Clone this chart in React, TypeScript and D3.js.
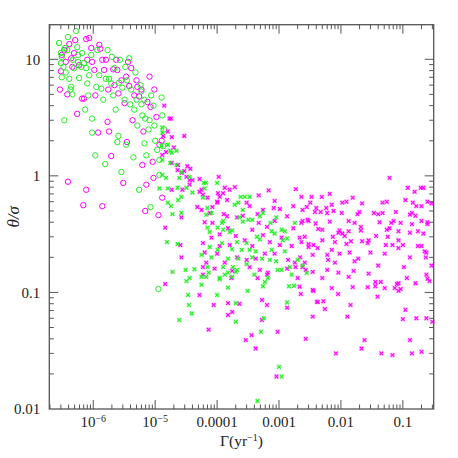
import React from "react";
import * as d3 from "d3";

const width = 458;
const height = 458;
const margin = { top: 24.7, right: 24.3, bottom: 49, left: 49.3 };
const innerWidth = width - margin.left - margin.right;
const innerHeight = height - margin.top - margin.bottom;

// [Gamma (yr^-1), theta/sigma]
const magentaCircles: [number, number][] = [
  [2.9e-7, 5.5], [3.0e-7, 7.9], [3.1e-7, 10.9], [3.4e-7, 12.0], [3.6e-7, 9.5], [3.8e-7, 5.0],
  [3.9e-7, 0.89], [4.1e-7, 13.5], [4.4e-7, 10.2], [4.6e-7, 8.6], [4.9e-7, 11.3], [5.1e-7, 14.6],
  [5.5e-7, 3.4], [5.9e-7, 8.9], [6.6e-7, 4.6], [6.9e-7, 0.56], [7.1e-7, 4.6], [7.7e-7, 14.9],
  [7.7e-7, 0.76], [8.0e-7, 9.9], [8.6e-7, 15.2], [9.3e-7, 12.5], [9.6e-7, 9.5], [1.04e-6, 8.1],
  [1.08e-6, 4.9], [1.2e-6, 2.35], [1.25e-6, 13.3], [1.3e-6, 12.3], [1.4e-6, 0.55], [1.4e-6, 9.9],
  [1.5e-6, 8.1], [1.6e-6, 9.9], [1.7e-6, 2.9], [1.75e-6, 5.5], [1.8e-6, 2.4], [1.95e-6, 1.48],
  [2.1e-6, 8.2], [2.2e-6, 6.0], [2.35e-6, 9.9], [2.45e-6, 8.1], [2.55e-6, 5.1], [2.85e-6, 6.6],
  [3.05e-6, 0.87], [3.2e-6, 4.2], [3.4e-6, 7.1], [3.5e-6, 1.95], [3.65e-6, 9.5], [3.8e-6, 5.9],
  [4.1e-6, 8.4], [4.3e-6, 3.0], [4.6e-6, 4.9], [5.0e-6, 6.6], [5.15e-6, 5.8], [5.5e-6, 4.8],
  [6.0e-6, 5.5], [6.2e-6, 1.24], [6.45e-6, 2.4], [6.9e-6, 0.5], [7.2e-6, 0.84], [7.5e-6, 4.3],
  [8.1e-6, 7.1], [8.4e-6, 3.9], [9.1e-6, 1.32], [9.4e-6, 0.96], [9.7e-6, 5.5], [1.05e-5, 3.2],
  [1.13e-5, 0.46], [1.17e-5, 1.85], [1.27e-5, 2.0], [1.3e-5, 0.65],
];

const greenCircles: [number, number][] = [
  [2.8e-7, 13.8], [3.0e-7, 11.3], [3.1e-7, 10.5], [3.0e-7, 9.3], [3.3e-7, 8.6], [3.1e-7, 7.0],
  [3.4e-7, 3.0], [3.9e-7, 15.5], [3.8e-7, 12.0], [3.6e-7, 7.7], [4.1e-7, 6.8], [4.4e-7, 5.8],
  [4.3e-7, 5.5], [4.6e-7, 5.0], [5.3e-7, 17.5], [5.5e-7, 12.7], [5.7e-7, 9.5], [5.7e-7, 10.9],
  [4.9e-7, 8.4], [5.9e-7, 6.9], [6.4e-7, 8.6], [6.6e-7, 11.3], [7.1e-7, 9.3], [7.7e-7, 8.4],
  [8.0e-7, 6.2], [8.6e-7, 7.3], [9.3e-7, 10.9], [9.6e-7, 3.1], [9.6e-7, 2.35], [1.08e-6, 1.5],
  [1.12e-6, 5.8], [1.16e-6, 12.0], [1.25e-6, 7.3], [1.35e-6, 5.6], [1.45e-6, 4.5], [1.56e-6, 1.26],
  [1.6e-6, 6.8], [1.7e-6, 12.0], [1.8e-6, 6.8], [1.95e-6, 6.2], [2.0e-6, 10.5], [2.1e-6, 4.9],
  [2.3e-6, 3.7], [2.45e-6, 1.95], [2.55e-6, 2.2], [2.85e-6, 1.08], [2.95e-6, 5.7], [3.2e-6, 4.5],
  [3.3e-6, 8.6], [3.4e-6, 1.85], [3.5e-6, 6.6], [3.8e-6, 10.2], [3.95e-6, 4.1], [4.1e-6, 5.5],
  [4.45e-6, 1.44], [4.6e-6, 3.7], [4.8e-6, 7.7], [5.0e-6, 4.5], [5.15e-6, 2.7], [5.5e-6, 0.76],
  [6.0e-6, 5.3], [6.2e-6, 3.3], [6.7e-6, 4.5], [6.7e-6, 1.9], [7.2e-6, 1.5], [7.8e-6, 2.5],
  [8.1e-6, 3.0], [8.4e-6, 0.54], [8.6e-6, 4.9], [9.4e-6, 4.0], [9.7e-6, 2.7], [1.0e-5, 2.0],
  [1.08e-5, 1.67], [1.17e-5, 1.02], [1.13e-5, 0.107], [1.27e-5, 4.7], [1.3e-5, 3.3], [1.35e-5, 1.8],
  [1.17e-5, 1.37], [1.4e-5, 2.5], [7.4e-7, 3.7], [8.3e-7, 4.9], [4.7e-7, 9.9], [3.5e-7, 12.5],
  [2.2e-6, 8.4], [2.6e-6, 6.3], [2.7e-6, 9.9], [5.8e-6, 6.0], [6.0e-6, 4.1], [6.9e-6, 3.1],
];

const magentaCrosses: [number, number][] = [
  [1.4e-5, 4.0], [1.7e-5, 3.1], [1.8e-5, 3.1], [1.35e-5, 2.2], [1.85e-5, 2.15], [2.95e-5, 2.2],
  [2.0e-5, 1.75], [1.45e-5, 0.36], [1.45e-5, 0.118], [1.85e-5, 1.29], [2.35e-5, 1.24], [2.7e-5, 1.06],
  [3.3e-5, 1.21], [3.2e-5, 0.98], [3.6e-5, 0.92], [2.65e-5, 0.44], [2.65e-5, 0.2], [2.55e-5, 0.255],
  [5.2e-5, 0.73], [5.6e-5, 0.76], [5.9e-5, 0.69], [4.8e-5, 0.54], [5.2e-5, 0.095], [7.3e-5, 0.048],
  [8.8e-5, 0.078], [1.06e-4, 0.98], [1.0e-4, 0.6], [1.1e-4, 0.66], [1.33e-4, 0.79], [1.93e-4, 0.8],
  [1.45e-4, 0.45], [1.5e-4, 0.081], [1.75e-4, 0.068], [2.3e-4, 0.08], [2.9e-4, 0.039], [3.6e-4, 0.043],
  [4.2e-4, 0.033], [5.3e-4, 0.058], [6.4e-4, 0.078], [6.8e-4, 0.75], [8.2e-4, 0.53], [9.5e-4, 0.046],
  [9.1e-4, 0.019], [1.35e-3, 0.074], [1.87e-3, 0.77], [2.15e-3, 0.112], [2.7e-3, 0.04], [3.5e-3, 0.105],
  [3.5e-3, 0.062], [4.1e-3, 0.083], [5.5e-3, 0.072], [4.9e-3, 0.66], [6.6e-3, 0.7], [8.3e-3, 0.03],
  [0.0127, 0.062], [0.0143, 0.078], [0.0215, 0.033], [0.024, 0.039], [0.039, 0.092], [0.045, 0.03],
  [0.068, 0.029], [0.11, 0.071], [0.1, 0.059], [0.13, 0.039], [0.14, 0.03], [0.165, 0.06],
  [0.3, 0.056], [0.061, 0.96], [0.12, 0.79], [0.155, 0.73], [0.195, 0.79], [0.215, 0.79],
  [0.25, 0.6], [0.29, 0.58],
  [2.3e-3, 0.66], [3.35e-3, 0.66], [0.0155, 0.65], [3.2e-3, 0.59], [7.1e-3, 0.565], [0.0105, 0.59],
  [0.0123, 0.6], [0.022, 0.58], [0.047, 0.59], [0.055, 0.6], [0.11, 0.62], [0.145, 0.59],
  [0.165, 0.55], [0.2, 0.55], [2.8e-3, 0.54], [4.0e-3, 0.53], [5.8e-3, 0.53], [4.7e-3, 0.49],
  [6.0e-3, 0.48], [7.6e-3, 0.5], [0.0103, 0.48], [0.0185, 0.47], [0.02, 0.49], [0.034, 0.48],
  [0.04, 0.47], [0.047, 0.48], [0.077, 0.49], [0.13, 0.465], [0.14, 0.48], [0.16, 0.455],
  [2.4e-3, 0.41], [3.0e-3, 0.41], [3.9e-3, 0.39], [6.6e-3, 0.405], [0.0133, 0.41], [0.0166, 0.395],
  [0.042, 0.4], [0.065, 0.395], [0.071, 0.41], [0.092, 0.395], [0.14, 0.385], [0.2, 0.41],
  [0.25, 0.4], [4.3e-3, 0.35], [5.0e-3, 0.345], [9.5e-3, 0.34], [0.0133, 0.335], [0.021, 0.365],
  [0.021, 0.34], [0.055, 0.345], [0.061, 0.355], [0.085, 0.335], [0.13, 0.325], [0.175, 0.335],
  [0.215, 0.32], [0.25, 0.385], [7.4e-3, 0.3], [9.1e-3, 0.325], [0.0105, 0.32], [0.0115, 0.305],
  [0.0145, 0.275], [0.022, 0.275], [0.028, 0.28], [0.037, 0.305], [0.057, 0.3], [0.085, 0.28],
  [2.6e-3, 0.3], [2.3e-3, 0.27], [3.0e-3, 0.26], [3.6e-3, 0.255], [4.2e-3, 0.24], [5.0e-3, 0.28],
  [7.1e-3, 0.232], [8.0e-3, 0.27], [0.0123, 0.26], [0.027, 0.265], [0.053, 0.255], [0.068, 0.255],
  [0.085, 0.24], [0.1, 0.255], [0.175, 0.25], [0.2, 0.25], [0.225, 0.225], [0.24, 0.22],
  [2.2e-3, 0.2], [3.5e-3, 0.21], [6.0e-3, 0.21], [9.5e-3, 0.215], [0.0138, 0.22], [0.03, 0.22],
  [0.051, 0.215], [0.13, 0.2], [0.235, 0.2], [2.6e-3, 0.18], [6.2e-3, 0.19], [8.0e-3, 0.18],
  [0.0166, 0.185], [0.019, 0.195], [0.04, 0.17], [0.104, 0.165], [0.29, 0.17], [2.7e-3, 0.156],
  [3.5e-3, 0.15], [6.0e-3, 0.156], [9.1e-3, 0.148], [0.016, 0.153], [0.028, 0.145], [0.24, 0.142],
  [5.0e-3, 0.133], [0.0133, 0.136], [0.036, 0.123], [0.044, 0.123], [0.116, 0.133], [0.25, 0.131],
  [7.1e-3, 0.109], [0.0155, 0.111], [0.027, 0.111], [0.051, 0.109], [0.074, 0.109], [0.085, 0.12],
  [2.25e-3, 0.097], [3.6e-3, 0.103], [9.0e-3, 0.097], [0.036, 0.113], [0.08, 0.118], [0.085, 0.103],
  [0.092, 0.107], [0.16, 0.12], [0.27, 0.125], [4.2e-3, 0.083], [5.2e-3, 0.084], [0.24, 0.06],
  [0.2, 0.031],
  [1.25e-4, 0.71], [4.7e-4, 0.68], [8.5e-4, 0.61], [1.45e-4, 0.62], [3.0e-4, 0.59], [3.35e-4, 0.55],
  [1.02e-4, 0.59], [7.0e-5, 0.65], [8.4e-5, 0.54], [1.7e-3, 0.55], [2.4e-3, 0.51], [1.03e-3, 0.52],
  [3.8e-3, 0.49], [4.5e-4, 0.47], [5.5e-4, 0.51], [5.6e-5, 0.51], [7.6e-5, 0.48], [1.28e-4, 0.47],
  [2.1e-4, 0.44], [2.6e-4, 0.455], [4.7e-4, 0.395], [6.4e-4, 0.365], [8.5e-4, 0.41], [1.35e-3, 0.45],
  [1.7e-3, 0.355], [2.3e-3, 0.395], [2.9e-3, 0.42], [6.3e-5, 0.4], [8.4e-5, 0.395], [1.5e-4, 0.355],
  [1.1e-4, 0.315], [3.7e-4, 0.345], [5.5e-4, 0.31], [8.1e-5, 0.295], [2.0e-4, 0.305], [2.8e-4, 0.28],
  [7.1e-4, 0.27], [1.1e-3, 0.295], [2.15e-3, 0.295], [3.0e-3, 0.245], [5.9e-5, 0.265], [1.1e-4, 0.25],
  [1.6e-4, 0.255], [3.7e-4, 0.25], [1.03e-3, 0.255], [1.6e-3, 0.25], [6.3e-5, 0.22], [1.0e-4, 0.215],
  [2.1e-4, 0.2], [5.9e-4, 0.215], [8.5e-4, 0.215], [6.7e-5, 0.18], [1.33e-4, 0.18], [3.0e-4, 0.19],
  [4.2e-4, 0.195], [1.4e-3, 0.19], [1.8e-3, 0.18], [2.4e-3, 0.165], [5.9e-5, 0.165], [9.1e-5, 0.16],
  [1.75e-4, 0.153], [3.35e-4, 0.165], [4.9e-4, 0.156], [6.6e-4, 0.148], [1.35e-3, 0.16], [5.9e-5, 0.142],
  [1.7e-4, 0.133], [4.5e-4, 0.133], [6.4e-4, 0.142], [2.0e-3, 0.133],
  [1.6e-5, 2.4], [1.5e-5, 1.6], [1.3e-5, 1.51], [3.7e-5, 1.15], [2.3e-5, 1.12], [2.95e-5, 1.1],
  [4.0e-5, 0.92], [5.2e-5, 0.94], [3.6e-5, 0.84], [1.6e-4, 0.76], [1.03e-4, 0.71], [2.75e-5, 0.76],
  [1.85e-5, 0.76], [1.5e-4, 0.064], [5.3e-4, 0.086], [1.85e-3, 0.165],
];

const greenCrosses: [number, number][] = [
  [1.3e-5, 2.6], [1.3e-5, 2.35], [1.27e-5, 1.8], [1.6e-5, 1.85], [1.75e-5, 1.64], [1.85e-5, 1.58],
  [2.2e-5, 1.64], [1.3e-5, 1.37], [1.75e-5, 1.29], [2.2e-5, 1.24], [1.3e-5, 1.02], [1.5e-5, 0.96],
  [2.45e-5, 0.96], [2.65e-5, 1.08], [3.6e-5, 0.98], [1.17e-5, 0.78], [1.6e-5, 0.78], [2.3e-5, 0.79],
  [3.2e-5, 0.79], [4.0e-5, 0.72], [5.9e-5, 0.65], [6.3e-5, 0.78], [1.0e-4, 0.87], [1.6e-5, 0.59],
  [1.8e-5, 0.55], [2.35e-5, 0.62], [2.65e-5, 0.66],
  [6.1e-5, 0.87], [6.6e-5, 0.87], [2.4e-4, 0.66], [2.8e-4, 0.66], [3.35e-4, 0.66], [2.2e-4, 0.59],
  [2.6e-4, 0.51], [1.93e-4, 0.565], [7.0e-5, 0.53], [6.7e-5, 0.465], [8.1e-5, 0.48], [1.25e-4, 0.41],
  [1.2e-4, 0.395], [2.3e-4, 0.44], [2.6e-4, 0.405], [3.2e-4, 0.42], [3.7e-4, 0.42], [4.9e-4, 0.45],
  [5.5e-4, 0.48], [7.3e-4, 0.395], [9.0e-4, 0.44], [1.1e-3, 0.345], [1.24e-3, 0.335], [1.8e-3, 0.395],
  [1.6e-4, 0.33], [1.75e-4, 0.34], [7.0e-5, 0.36], [1.02e-4, 0.36], [1.25e-4, 0.345], [7.6e-5, 0.33],
  [1.2e-4, 0.265], [2.1e-4, 0.27], [3.0e-4, 0.265], [4.4e-4, 0.3], [4.9e-4, 0.285], [7.6e-4, 0.335],
  [8.5e-4, 0.32], [1.15e-3, 0.28], [1.35e-3, 0.29], [7.6e-5, 0.245], [1.02e-4, 0.232], [1.75e-4, 0.235],
  [2.5e-4, 0.232], [3.35e-4, 0.232], [4.2e-4, 0.225], [7.6e-4, 0.232], [1.24e-3, 0.225], [5.6e-5, 0.21],
  [8.1e-5, 0.2], [1.5e-4, 0.195], [2.2e-4, 0.195], [3.7e-4, 0.2], [5.3e-4, 0.195], [7.1e-4, 0.19],
  [9.0e-4, 0.185], [2.0e-3, 0.19], [7.0e-5, 0.165], [1.25e-4, 0.165], [1.8e-4, 0.165], [3.0e-4, 0.175],
  [1.1e-3, 0.156], [1.5e-3, 0.165], [2.4e-3, 0.17], [1.33e-4, 0.142], [2.1e-4, 0.156], [4.0e-4, 0.142],
  [9.5e-4, 0.156], [1.6e-3, 0.142], [2.8e-3, 0.147], [6.7e-5, 0.136], [1.1e-4, 0.133], [1.75e-4, 0.136],
  [6.6e-4, 0.133],
  [1.9e-5, 0.47], [2.65e-5, 0.48], [1.55e-5, 0.27], [2.3e-5, 0.26], [1.9e-5, 0.15], [3.1e-5, 0.156],
  [4.3e-5, 0.158], [3.2e-5, 0.125], [3.6e-5, 0.133], [5.6e-5, 0.136], [5.6e-5, 0.116], [7.3e-5, 0.148],
  [1.1e-4, 0.13], [1.5e-4, 0.148], [3.4e-5, 0.095], [3.5e-5, 0.078], [3.9e-5, 0.066], [2.45e-5, 0.058],
  [1.0e-4, 0.095], [1.5e-4, 0.11], [2.0e-4, 0.15], [3.1e-4, 0.103], [2.0e-4, 0.081], [2.0e-4, 0.056],
  [5.1e-4, 0.046], [5.7e-4, 0.06], [5.5e-4, 0.113], [5.9e-4, 0.123], [1.35e-3, 0.082], [1.45e-3, 0.113],
  [1.75e-3, 0.114], [1.0e-3, 0.023], [1.1e-3, 0.019], [4.5e-4, 0.0117],
];

const xLabelValues = [1e-6, 1e-5, 1e-4, 1e-3, 0.01, 0.1];
const xLabelTexts = ["10^−6", "10^−5", "0.0001", "0.001", "0.01", "0.1"];
const yLabelValues = [0.01, 0.1, 1, 10];
const yLabelTexts = ["0.01", "0.1", "1", "10"];

const MAGENTA = "#f0f";
const GREEN = "#2e2";
const AXIS = "#555";
const FONT = "'Liberation Serif', 'DejaVu Serif', serif";

const isDecade = (v: number) => Math.abs(Math.log10(v) - Math.round(Math.log10(v))) < 1e-6;

const Circles = ({ data, color, x, y }: any) => (
  <g>
    {data.map((d: [number, number], i: number) => (
      <circle key={i} cx={x(d[0])} cy={y(d[1])} r={2.7} fill="none" stroke={color} strokeWidth={1} />
    ))}
  </g>
);

const Crosses = ({ data, color, x, y }: any) => (
  <g>
    {data.map((d: [number, number], i: number) => (
      <g key={i} transform={`translate(${x(d[0])},${y(d[1])})`}>
        <rect x={-2.4} y={-2.4} width={4.8} height={4.8} fill={color} opacity={0.22} />
        <path d="M-1.8,-1.8L1.8,1.8M-1.8,1.8L1.8,-1.8" stroke={color} strokeWidth={1.1} />
      </g>
    ))}
  </g>
);

export default function App() {
  const xScale = d3.scaleLog().domain([1.95e-7, 0.315]).range([0, innerWidth]);
  const yScale = d3.scaleLog().domain([0.01, 19.8]).range([innerHeight, 0]);

  const xTicks = xScale.ticks().filter((t) => xScale(t) > 0.5 && xScale(t) < innerWidth - 0.5);
  const yTicks = yScale.ticks().filter((t) => yScale(t) > 0.5 && yScale(t) < innerHeight - 0.5);

  const major = 9;
  const minor = 4.5;

  return (
    <svg width={width} height={height} style={{ position: "absolute", left: 0, top: 0, background: "#fff" }}>
      <g transform={`translate(${margin.left},${margin.top})`}>
        {/* points */}
        <Circles data={magentaCircles} color={MAGENTA} x={xScale} y={yScale} />
        <Circles data={greenCircles} color={GREEN} x={xScale} y={yScale} />
        <Crosses data={magentaCrosses} color={MAGENTA} x={xScale} y={yScale} />
        <Crosses data={greenCrosses} color={GREEN} x={xScale} y={yScale} />

        {/* x ticks, bottom and top */}
        {xTicks.map((t) => {
          const len = isDecade(t) ? major : minor;
          const px = xScale(t);
          return (
            <g key={`x${t}`} stroke={AXIS} strokeWidth={1}>
              <line x1={px} x2={px} y1={innerHeight} y2={innerHeight - len} />
              <line x1={px} x2={px} y1={0} y2={len} />
            </g>
          );
        })}
        {/* y ticks, left and right */}
        {yTicks.map((t) => {
          const len = isDecade(t) ? major : minor;
          const py = yScale(t);
          return (
            <g key={`y${t}`} stroke={AXIS} strokeWidth={1}>
              <line x1={0} x2={len} y1={py} y2={py} />
              <line x1={innerWidth} x2={innerWidth - len} y1={py} y2={py} />
            </g>
          );
        })}

        <rect x={0} y={0} width={innerWidth} height={innerHeight} fill="none" stroke={AXIS} strokeWidth={1.3} />

        {/* x labels */}
        {xLabelValues.map((v, i) => {
          const [base, exp] = xLabelTexts[i].split("^");
          return (
            <text key={`xl${v}`} x={xScale(v)} y={innerHeight + 18.5} textAnchor="middle"
              fontFamily={FONT} fontSize={15} fill="#222">
              {base}
              {exp && <tspan dy={-5.5} fontSize={10}>{exp}</tspan>}
            </text>
          );
        })}
        {/* y labels */}
        {yLabelValues.map((v, i) => (
          <text key={`yl${v}`} x={-9} y={yScale(v)} dy="0.35em" textAnchor="end"
            fontFamily={FONT} fontSize={15} fill="#222">
            {yLabelTexts[i]}
          </text>
        ))}

        <text x={innerWidth / 2} y={innerHeight + 37.5} textAnchor="middle" fontFamily={FONT} fontSize={15.5} fill="#222">
          Γ(yr<tspan dy={-5.5} fontSize={10}>−1</tspan><tspan dy={5.5}>)</tspan>
        </text>
        <text transform={`translate(${-30.5},${innerHeight / 2}) rotate(-90)`} textAnchor="middle"
          fontFamily={FONT} fontSize={17} fontStyle="italic" fill="#222">
          θ/σ
        </text>
      </g>
    </svg>
  );
}
